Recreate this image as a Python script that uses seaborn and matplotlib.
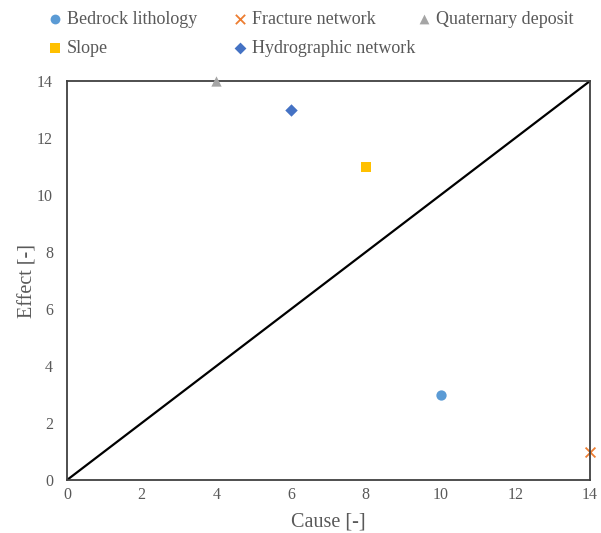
import numpy as np
import pandas as pd
import seaborn as sns
import matplotlib.pyplot as plt

# Veriler
factors = ["Bedrock lithology", "Fracture network", "Quaternary deposit", "Slope", "Hydrographic network"]
cause = [10, 14, 4, 8, 6]
effect = [3, 1, 14, 11, 13]
colors = ["#5B9BD5", "#ED7D31", "#A5A5A5", "#FFC000", "#4472C4"]
markers = ["o", "x", "^", "s", "D"]
diag = [0, 14]

df = pd.DataFrame({"Factor": factors, "Cause": cause, "Effect": effect})

sns.set_style("white")
plt.rcParams["font.family"] = ["Liberation Serif", "DejaVu Serif"]

W, H = 601, 533
fig = plt.figure(figsize=(W / 100, H / 100), dpi=100)
ax = fig.add_axes([67 / W, 53 / H, 523 / W, 399 / H])

sns.lineplot(x=diag, y=diag, color="black", lw=1.6, ax=ax, legend=False)

# Her faktör ayrı çizilir (dolu ve çizgi markerlar karışamıyor)
for f, c, m in zip(factors, colors, markers):
    sub = df[df["Factor"] == f]
    if m == "x":
        sns.scatterplot(data=sub, x="Cause", y="Effect", color=c, marker=m, s=50,
                        linewidth=1.3, ax=ax, label=f, clip_on=False, zorder=1.5, legend=False)
    else:
        sns.scatterplot(data=sub, x="Cause", y="Effect", color=c, marker=m,
                        s=40 if m == "D" else 55, linewidth=0, ax=ax, label=f,
                        clip_on=False, zorder=5, legend=False)

ax.set_xlim(0, 14)
ax.set_ylim(0, 14)
ax.set_xticks(np.arange(0, 15, 2))
ax.set_yticks(np.arange(0, 15, 2))
ax.tick_params(axis="both", direction="out", length=4, width=1.2, colors="#404040",
               labelcolor="#595959", labelsize=11.5)
ax.tick_params(axis="y", pad=6)
ax.tick_params(axis="x", pad=1)
for sp in ax.spines.values():
    sp.set_color("#404040")
    sp.set_linewidth(1.3)
    sp.set_zorder(3)
ax.set_xlabel("Cause [-]", fontsize=14.5, color="#595959", labelpad=7)
ax.set_ylabel("Effect [-]", fontsize=14.5, color="#595959", labelpad=0)

# Efsane: Excel gibi eşit aralıklı 3 sütun
handles, labels = ax.get_legend_handles_labels()
hmap = dict(zip(labels, handles))
cols = [["Bedrock lithology", "Slope"], ["Fracture network", "Hydrographic network"],
        ["Quaternary deposit"]]
col_x = [50, 235, 419]
for names, x0 in zip(cols, col_x):
    lg = fig.legend([hmap[k] for k in names], names, loc="upper left",
                    bbox_to_anchor=(x0 / W, 1 - 11 / H), frameon=False, fontsize=13,
                    handlelength=0.6, handletextpad=0.35, labelspacing=0.65,
                    borderpad=0, borderaxespad=0, markerscale=0.95,
                    labelcolor="#595959")

fig.savefig("out.png", dpi=100)
